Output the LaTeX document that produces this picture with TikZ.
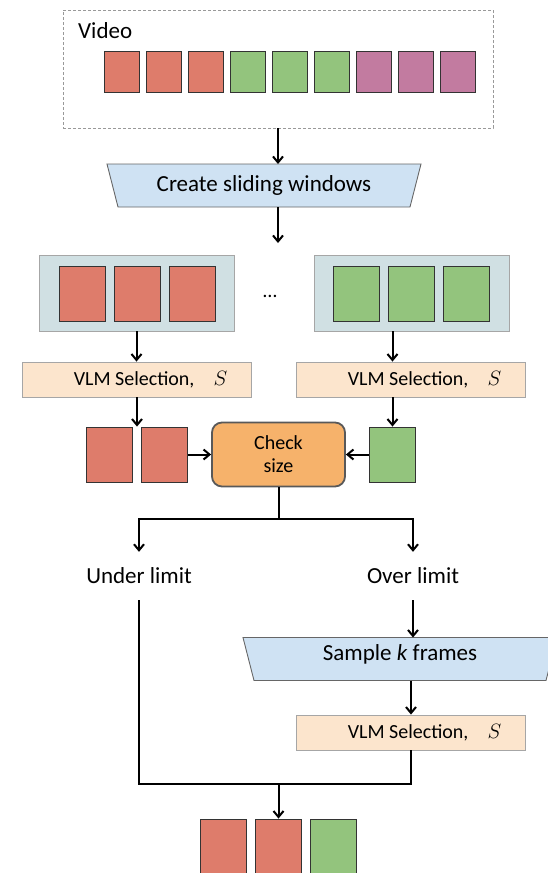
\documentclass[tikz,border=0pt]{standalone}
\usepackage{fontspec}
\setmainfont{Carlito}
\usepackage{tikz}
\usetikzlibrary{arrows.meta,positioning}

\pgfdeclarelayer{bg}
\pgfsetlayers{bg,main}

\definecolor{fred}{RGB}{222,124,107}
\definecolor{fgreen}{RGB}{147,196,125}
\definecolor{fpurple}{RGB}{194,123,160}
\definecolor{winblue}{RGB}{208,224,227}
\definecolor{trapblue}{RGB}{207,226,243}
\definecolor{vlmpeach}{RGB}{252,229,205}
\definecolor{checkorange}{RGB}{246,178,107}

\newcommand{\figbig}{\fontsize{23}{27}\selectfont}
\newcommand{\figsmall}{\fontsize{20}{23}\selectfont}

\begin{document}
\begin{tikzpicture}[x=1pt,y=1pt,>={Straight Barb[length=6pt,width=10pt]},
    flow/.style={line width=2pt},
    vframe/.style={draw=black!80,line width=0.9pt,minimum width=35pt,minimum height=41pt,inner sep=0pt,node distance=42pt},
    frame/.style={draw=black!80,line width=0.9pt,minimum width=46pt,minimum height=55pt,inner sep=0pt,node distance=55pt},
    vidbox/.style={draw=gray!80,dash pattern=on 3pt off 2pt,line width=0.9pt,minimum width=430pt,minimum height=118pt},
    winbox/.style={draw=gray!70,fill=winblue,line width=0.9pt,minimum width=195pt,minimum height=76pt},
    vlm/.style={draw=gray!70,fill=vlmpeach,line width=0.9pt,minimum width=229pt,minimum height=35pt,inner sep=0pt,font=\figsmall},
    check/.style={draw=black!65,fill=checkorange,rounded corners=10pt,line width=1.8pt,minimum width=133pt,minimum height=64pt,align=center,font=\figsmall},
    trap/.style={minimum width=292pt,minimum height=43pt,inner sep=0pt,outer sep=0pt,font=\figbig},
    trapline/.style={draw=gray!80!black,fill=trapblue,line width=0.9pt},
    branch/.style={minimum height=48pt,inner sep=0pt,font=\figbig}]
  \useasboundingbox (0,0) rectangle (547,-873);

  % input video
  \node[vidbox] (video) at (278,-69) {};
  \node[anchor=west,inner sep=0pt,font=\figbig] (vlabel) at (78,-30.5) {Video};
  \node[vframe,fill=fred] (v1) at (121.5,-71.5) {};
  \node[vframe,fill=fred,right of=v1] (v2) {};
  \node[vframe,fill=fred,right of=v2] (v3) {};
  \node[vframe,fill=fgreen,right of=v3] (v4) {};
  \node[vframe,fill=fgreen,right of=v4] (v5) {};
  \node[vframe,fill=fgreen,right of=v5] (v6) {};
  \node[vframe,fill=fpurple,right of=v6] (v7) {};
  \node[vframe,fill=fpurple,right of=v7] (v8) {};
  \node[vframe,fill=fpurple,right of=v8] (v9) {};

  \node[trap] (slide) at (264,-185.5) {Create sliding windows};
  \coordinate (winsplit) at (278,-243);

  % windows
  \node[winbox] (win1) at (136.5,-293) {};
  \node[frame,fill=fred] (w1) at (82,-293.5) {};
  \node[frame,fill=fred,right of=w1] (w2) {};
  \node[frame,fill=fred,right of=w2] (w3) {};
  \node[font=\figsmall] (dots) at (270,-296) {…};
  \node[winbox] (win2) at (411.5,-293) {};
  \node[frame,fill=fgreen] (w4) at (356.5,-293.5) {};
  \node[frame,fill=fgreen,right of=w4] (w5) {};
  \node[frame,fill=fgreen,right of=w5] (w6) {};

  \node[vlm] (vlm1) at (137,-379.5) {\hspace*{27pt}VLM Selection,\hspace{19pt}$S$};
  \node[vlm] (vlm2) at (411,-379.5) {\hspace*{27pt}VLM Selection,\hspace{19pt}$S$};

  % selected frames
  \node[frame,fill=fred] (s1) at (109.5,-454.5) {};
  \node[frame,fill=fred,right of=s1] (s2) {};
  \node[check] (check) at (278.5,-454.5) {Check\\size};
  \node[frame,fill=fgreen] (s3) at (392.5,-454.5) {};
  \coordinate (split) at (278.5,-519);

  \node[branch] (under) at (139,-576) {Under limit};
  \node[branch] (over) at (413,-576) {Over limit};

  \node[trap,text depth=12pt] (sample) at (400,-659) {Sample \textit{k} frames};
  \node[vlm] (vlm3) at (411,-732.5) {\hspace*{27pt}VLM Selection,\hspace{19pt}$S$};
  \coordinate (merge) at (278.5,-784);

  % output
  \node[frame,fill=fred] (o1) at (223.5,-846.5) {};
  \node[frame,fill=fred,right of=o1] (o2) {};
  \node[frame,fill=fgreen,right of=o2] (o3) {};

  \begin{pgfonlayer}{bg}
    \foreach \t in {slide,sample}
      \draw[trapline] ([xshift=-11pt]\t.north west) -- ([xshift=11pt]\t.north east)
        -- (\t.south east) -- (\t.south west) -- cycle;
  \end{pgfonlayer}

  \draw[flow,->] (video.south) -- (video.south |- slide.north);
  \draw[flow,->] (slide.south -| video.south) -- (winsplit);
  \draw[flow,->] (win1.south) -- (win1.south |- vlm1.north);
  \draw[flow,->] (vlm1.south) -- (vlm1.south |- s1.north);
  \draw[flow,->] (win2.south -| s3) -- (vlm2.north -| s3);
  \draw[flow,->] (vlm2.south -| s3) -- (s3.north);
  \draw[flow,->] (s2) -- (check);
  \draw[flow,->] (s3) -- (check);
  \draw[flow] (check.south) -- (split);
  \draw[flow,->] (split) -| (under.north);
  \draw[flow,->] (split) -| (over.north);
  \draw[flow,->] (over.south) -- (over.south |- sample.north);
  \draw[flow,->] (sample.south -| vlm3.north) -- (vlm3.north);
  \draw[flow] (under.south) |- (merge) -| (vlm3.south);
  \draw[flow,->] (merge) -- (o2.north);
\end{tikzpicture}
\end{document}
